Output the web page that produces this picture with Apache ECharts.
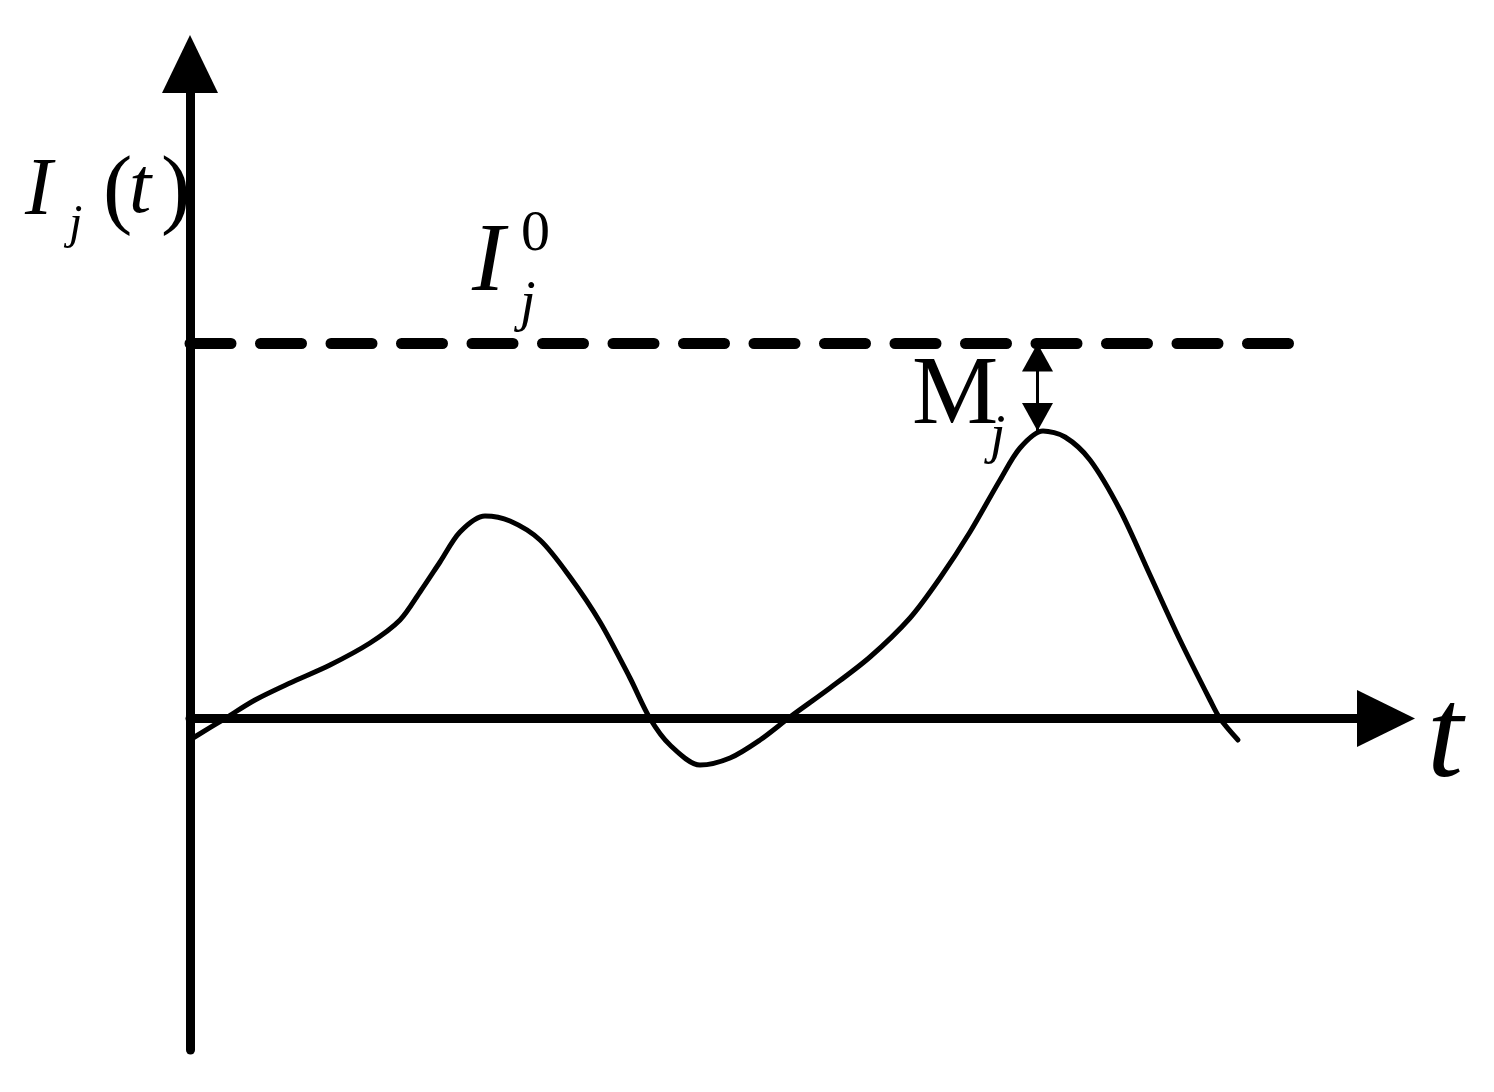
<!DOCTYPE html>
<html>
<head>
<meta charset="utf-8">
<script src="https://cdn.jsdelivr.net/npm/echarts/dist/echarts.min.js"></script>
<style>
html,body{margin:0;padding:0;background:#fff;}
#chart{width:1494px;height:1092px;}
</style>
</head>
<body>
<div id="chart"></div>
<script>
// ---- data (t in time units, I in current units) ----
var curveT = [0.03, 0.35, 0.65, 1.00, 1.40, 1.80, 2.10, 2.30, 2.50, 2.70, 2.95, 3.20, 3.50, 3.80, 4.10, 4.40, 4.60, 4.80, 5.10, 5.40, 5.70, 6.00, 6.40, 6.80, 7.20, 7.50, 7.80, 8.10, 8.30, 8.53, 8.75, 9.00, 9.30, 9.60, 9.90, 10.20, 10.30, 10.48];
var curveI = [-0.195, 0.0, 0.185, 0.355, 0.535, 0.755, 0.985, 1.265, 1.565, 1.865, 2.025, 1.975, 1.785, 1.415, 0.965, 0.405, 0.0, -0.265, -0.465, -0.395, -0.215, 0.015, 0.305, 0.615, 1.005, 1.405, 1.865, 2.385, 2.705, 2.875, 2.815, 2.585, 2.085, 1.435, 0.785, 0.185, 0.0, -0.215];
var thresholdI0 = 3.75;          // I_j^0
var thresholdSpan = [0, 11.02];  // t extent of the dashed line
var marginT = 8.475;             // where M_j is measured
var marginPeak = 2.875;          // curve peak at that t
var axisRangeT = [0, 11.96];
var axisRangeI = [-3.315, 6.545];

var curveData = curveT.map(function (t, i) { return [t, curveI[i]]; });

var FONT = '"Liberation Serif", "Times New Roman", serif';
function txt(str, x, baseline, size, italic) {
  var y = baseline - 0.32 * size;
  return {
    type: 'text', z: 100,
    style: {
      text: str, x: x, y: y,
      font: (italic ? 'italic ' : '') + size + 'px ' + FONT,
      fill: '#000',
      textAlign: 'left', textVerticalAlign: 'middle',
      align: 'left', verticalAlign: 'middle'
    }
  };
}

var chart = echarts.init(document.getElementById('chart'), null, {renderer: 'canvas'});
chart.setOption({
  animation: false,
  backgroundColor: '#fff',
  grid: {left: 190, right: 108, top: 64, bottom: 42, containLabel: false},
  xAxis: {
    type: 'value', min: axisRangeT[0], max: axisRangeT[1],
    axisLine: {show: true, onZero: true, lineStyle: {color: '#000', width: 9},
      symbol: ['none', 'triangle'], symbolSize: [57, 58]},
    axisTick: {show: false}, axisLabel: {show: false}, splitLine: {show: false}
  },
  yAxis: {
    type: 'value', min: axisRangeI[0], max: axisRangeI[1],
    axisLine: {show: true, onZero: false, lineStyle: {color: '#000', width: 9},
      symbol: ['none', 'triangle'], symbolSize: [56, 58]},
    axisTick: {show: false}, axisLabel: {show: false}, splitLine: {show: false}
  },
  series: [
    {
      type: 'line', data: curveData, smooth: 0.3,
      showSymbol: false, symbol: 'none',
      lineStyle: {color: '#000', width: 5, cap: 'round', join: 'round'}, z: 5
    },
    {
      type: 'line',
      data: [[thresholdSpan[0], thresholdI0], [thresholdSpan[1], thresholdI0]],
      showSymbol: false, symbol: 'none',
      lineStyle: {color: '#000', width: 11, type: [41, 29.5], cap: 'round'}, z: 4
    },
    {
      type: 'line',
      data: [
        {value: [marginT, thresholdI0], symbol: 'triangle', symbolRotate: 0, symbolOffset: [0, '50%']},
        {value: [marginT, marginPeak], symbol: 'triangle', symbolRotate: 180, symbolOffset: [0, '-50%']}
      ],
      showSymbol: true, symbolSize: [31, 28],
      itemStyle: {color: '#000'},
      lineStyle: {color: '#000', width: 3}, z: 6
    }
  ],
  graphic: [
    txt('I', 25, 219, 82, true),
    txt('j', 69, 241, 48, true),
    txt('(', 103, 222, 88, false),
    txt('t', 129, 217, 80, true),
    txt(')', 161, 222, 88, false),
    txt('I', 472, 296, 98, true),
    txt('0', 521, 253, 58, false),
    txt('j', 520, 323, 56, true),
    txt('M', 912, 429, 97, false),
    txt('j', 990, 455, 55, true),
    txt('t', 1427, 783, 130, true)
  ]
});
</script>
</body>
</html>
